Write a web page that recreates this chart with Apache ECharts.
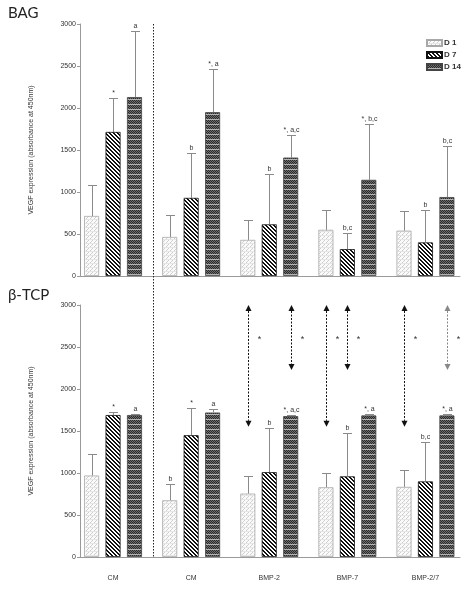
<!DOCTYPE html>
<html>
<head>
<meta charset="utf-8">
<script src="https://cdn.jsdelivr.net/npm/echarts@6/dist/echarts.min.js"></script>
<style>
html, body { margin: 0; padding: 0; background: #fff; }
#chart { width: 467px; height: 591px; }
</style>
</head>
<body>
<div id="chart"></div>
<script>
// 数据 =========================================
var groups = ['CM', 'CM', 'BMP-2', 'BMP-7', 'BMP-2/7'];
var days = ['D 1', 'D 7', 'D 14'];
var yMin = 0, yMax = 3000, yStep = 500;

// BAG
var bagD1 = [715, 465, 430, 550, 540];
var bagD7 = [1715, 930, 615, 320, 400];
var bagD14 = [2130, 1950, 1410, 1145, 940];
var bagErrD1 = [1085, 725, 665, 780, 775];
var bagErrD7 = [2120, 1470, 1210, 510, 790];
var bagErrD14 = [2920, 2465, 1675, 1805, 1550];
var bagMarkD1 = ['', '', '', '', ''];
var bagMarkD7 = ['*', 'b', 'b', 'b,c', 'b'];
var bagMarkD14 = ['a', '*, a', '*, a,c', '*, b,c', 'b,c'];

// β-TCP
var tcpD1 = [970, 675, 755, 830, 835];
var tcpD7 = [1690, 1450, 1010, 960, 900];
var tcpD14 = [1690, 1720, 1677, 1685, 1685];
var tcpErrD1 = [1225, 865, 966, 995, 1035];
var tcpErrD7 = [1730, 1770, 1530, 1480, 1365];
var tcpErrD14 = [1705, 1760, 1690, 1705, 1705];
var tcpMarkD1 = ['', 'b', '', '', ''];
var tcpMarkD7 = ['*', '*', 'b', 'b', 'b,c'];
var tcpMarkD14 = ['a', 'a', '*, a,c', '*, a', '*, a'];

// 双向箭头 (β-TCP)
var arrowGroup = [2, 2, 3, 3, 4, 4];
var arrowBar = [0, 2, 0, 1, 0, 2];
var arrowLow = [1550, 2225, 1550, 2225, 1550, 2225];
var arrowHigh = [3000, 3000, 3000, 3000, 3000, 3000];
var arrowStar = [2585, 2585, 2585, 2585, 2585, 2585];

// 样式 =========================================
var barW = 15;
var barGap = 0.43;
var barStep = barW * (1 + barGap);
var fontFam = 'Liberation Sans, Arial, sans-serif';

// 填充图案
function makePattern(w, h, fn) {
    var c = document.createElement('canvas');
    c.width = w;
    c.height = h;
    var ctx = c.getContext('2d');
    for (var y = 0; y < h; y++) {
        for (var x = 0; x < w; x++) {
            ctx.fillStyle = fn(x, y);
            ctx.fillRect(x, y, 1, 1);
        }
    }
    return { image: c, repeat: 'repeat' };
}
var patD1 = makePattern(4, 4, function(x, y) {
    if (y == 3) return '#e6e6e6';
    return (x + y) % 4 == 0 ? '#cfcfcf' : '#fafafa';
});
var patD7 = makePattern(4, 4, function(x, y) {
    return ((x - y) % 4 + 4) % 4 < 2 ? '#111' : '#fff';
});
var patD14 = makePattern(4, 5, function(x, y) {
    if (y == 4) return '#b4b4b4';
    return (x + y) % 2 == 0 ? '#2a2a2a' : '#6e6e6e';
});
var patterns = [patD1, patD7, patD14];
var borders = ['#a8a8a8', '#111', '#444'];

// 系列 =========================================
function barSeries(vals, k, axis) {
    return {
        name: days[k],
        type: 'bar',
        xAxisIndex: axis,
        yAxisIndex: axis,
        data: vals,
        barWidth: barW,
        barGap: (barGap * 100) + '%',
        itemStyle: { color: patterns[k], borderColor: borders[k], borderWidth: 0.8 },
        z: 2
    };
}

function errSeries(means, errs, marks, axis) {
    var data = [], labels = [];
    for (var k = 0; k < 3; k++) {
        for (var i = 0; i < groups.length; i++) {
            data.push([i, means[k][i], errs[k][i], k]);
            labels.push(marks[k][i]);
        }
    }
    return {
        type: 'custom',
        xAxisIndex: axis,
        yAxisIndex: axis,
        data: data,
        encode: { x: 0, y: [1, 2] },
        z: 3,
        silent: true,
        renderItem: function(params, api) {
            var k = api.value(3);
            var p0 = api.coord([api.value(0), api.value(1)]);
            var p1 = api.coord([api.value(0), api.value(2)]);
            var x = Math.round(p0[0] + (k - 1) * barStep) + 0.5;
            var y1 = Math.round(p1[1]) + 0.5;
            var st = { stroke: '#8a8a8a', lineWidth: 1 };
            return {
                type: 'group',
                children: [
                    { type: 'line', shape: { x1: x, y1: p0[1], x2: x, y2: y1 }, style: st },
                    { type: 'line', shape: { x1: x - 4.5, y1: y1, x2: x + 4.5, y2: y1 }, style: st },
                    {
                        type: 'text',
                        style: {
                            text: labels[params.dataIndex],
                            x: x,
                            y: y1 - 2,
                            align: 'center',
                            verticalAlign: 'bottom',
                            fontSize: 7,
                            fontFamily: fontFam,
                            fill: '#333'
                        }
                    }
                ]
            };
        }
    };
}

function arrowSeries(axis) {
    var data = [];
    for (var i = 0; i < arrowGroup.length; i++) {
        data.push([arrowGroup[i], arrowLow[i], arrowHigh[i], arrowBar[i], arrowStar[i]]);
    }
    return {
        type: 'custom',
        xAxisIndex: axis,
        yAxisIndex: axis,
        data: data,
        encode: { x: 0, y: [1, 2] },
        z: 4,
        silent: true,
        renderItem: function(params, api) {
            var k = api.value(3);
            var pLo = api.coord([api.value(0), api.value(1)]);
            var pHi = api.coord([api.value(0), api.value(2)]);
            var pS = api.coord([api.value(0), api.value(4)]);
            var x = Math.round(pLo[0] + (k - 1) * barStep) + 0.5;
            var col = params.dataIndex == 5 ? '#888' : '#111';
            var h = 6, w = 3;
            return {
                type: 'group',
                children: [
                    { type: 'line', shape: { x1: x, y1: pHi[1] + h, x2: x, y2: pLo[1] - h },
                      style: { stroke: col, lineWidth: 1, lineDash: [2, 1.5] } },
                    { type: 'polygon', shape: { points: [[x, pHi[1]], [x - w, pHi[1] + h], [x + w, pHi[1] + h]] },
                      style: { fill: col } },
                    { type: 'polygon', shape: { points: [[x, pLo[1]], [x - w, pLo[1] - h], [x + w, pLo[1] - h]] },
                      style: { fill: col } },
                    { type: 'text', style: { text: '*', x: x + 11, y: pS[1], align: 'center', verticalAlign: 'middle',
                      fontSize: 9, fontFamily: fontFam, fill: '#333' } }
                ]
            };
        }
    };
}

// 坐标轴 =======================================
var axisCol = '#9a9a9a';
function frameY(top) {
    return {
        type: 'value', gridIndex: top, min: yMin, max: yMax, interval: yStep,
        axisLine: { show: true, lineStyle: { color: axisCol, width: 1 } },
        axisTick: { show: true, length: 3, lineStyle: { color: axisCol } },
        axisLabel: { fontSize: 7, color: '#333', margin: 4, fontFamily: fontFam,
                     formatter: function(v) { return String(v); } },
        splitLine: { show: false },
        name: 'VEGF expression (absorbance at 450nm)',
        nameLocation: 'middle',
        nameRotate: 90,
        nameGap: 45,
        nameTextStyle: { fontSize: 7, color: '#333', fontFamily: fontFam }
    };
}
function frameX(g) {
    return {
        type: 'category', gridIndex: g, data: groups,
        axisLine: { show: true, lineStyle: { color: axisCol, width: 1 } },
        axisTick: { show: false },
        axisLabel: { show: false }
    };
}
function barX(g, showLabel) {
    return {
        type: 'category', gridIndex: g, data: groups,
        axisLine: { show: false },
        axisTick: { show: false },
        axisLabel: { show: showLabel, fontSize: 7, color: '#333', margin: 18, fontFamily: fontFam }
    };
}
function barY(g) {
    return { type: 'value', gridIndex: g, min: yMin, max: yMax, interval: yStep, show: false, splitLine: { show: false } };
}

var chart = echarts.init(document.getElementById('chart'));
var option = {
    backgroundColor: '#fff',
    animation: false,
    title: [
        { text: 'BAG', left: 3, top: 1, textStyle: { fontSize: 15, fontWeight: 'normal', color: '#222', fontFamily: 'Lato, sans-serif' } },
        { text: 'β-TCP', left: 3, top: 283, textStyle: { fontSize: 15, fontWeight: 'normal', color: '#222', fontFamily: 'Lato, sans-serif' } }
    ],
    legend: {
        data: days,
        orient: 'vertical',
        left: 421,
        top: 34,
        itemWidth: 15,
        itemHeight: 6,
        itemGap: 4,
        icon: 'rect',
        textStyle: { fontSize: 8, color: '#333', fontWeight: 'bold', fontFamily: fontFam, padding: [0, 0, 0, -3] },
        selectedMode: false
    },
    grid: [
        { left: 80, right: 7, top: 24, height: 252 },
        { left: 74, right: 2.5, top: 24, height: 252 },
        { left: 80, right: 7, top: 305, height: 252 },
        { left: 74, right: 2.5, top: 305, height: 252 }
    ],
    xAxis: [frameX(0), barX(1, false), frameX(2), barX(3, true)],
    yAxis: [frameY(0), barY(1), frameY(2), barY(3)],
    graphic: [
        // 分隔虚线
        { type: 'line', shape: { x1: 153.5, y1: 24, x2: 153.5, y2: 557 },
          style: { stroke: '#222', lineWidth: 1, lineDash: [1.5, 1.5] }, z: 10 }
    ],
    series: [
        barSeries(bagD1, 0, 1),
        barSeries(bagD7, 1, 1),
        barSeries(bagD14, 2, 1),
        errSeries([bagD1, bagD7, bagD14], [bagErrD1, bagErrD7, bagErrD14], [bagMarkD1, bagMarkD7, bagMarkD14], 1),
        barSeries(tcpD1, 0, 3),
        barSeries(tcpD7, 1, 3),
        barSeries(tcpD14, 2, 3),
        errSeries([tcpD1, tcpD7, tcpD14], [tcpErrD1, tcpErrD7, tcpErrD14], [tcpMarkD1, tcpMarkD7, tcpMarkD14], 3),
        arrowSeries(3)
    ]
};
chart.setOption(option);
</script>
</body>
</html>
